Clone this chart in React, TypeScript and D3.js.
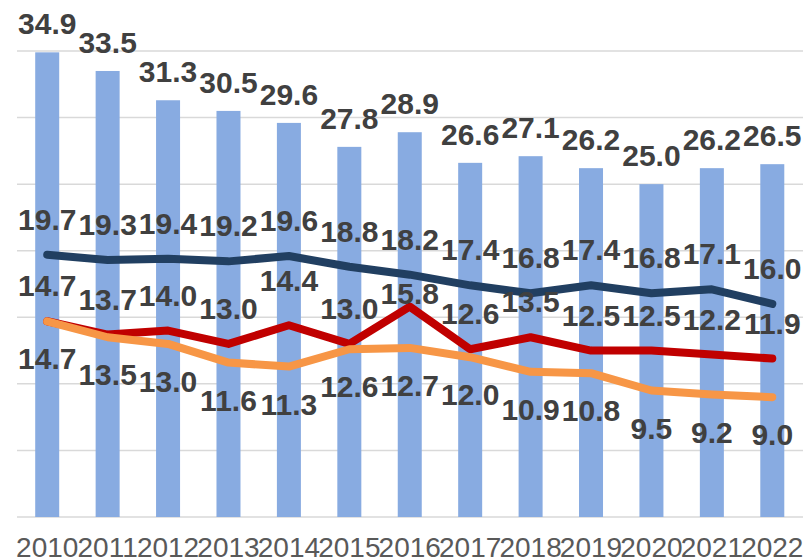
import React, { useEffect, useRef } from 'react';
import * as d3 from 'd3';

const years = ['2010', '2011', '2012', '2013', '2014', '2015', '2016', '2017', '2018', '2019', '2020', '2021', '2022'];
const barValues = [34.9, 33.5, 31.3, 30.5, 29.6, 27.8, 28.9, 26.6, 27.1, 26.2, 25.0, 26.2, 26.5];
const navyValues = [19.7, 19.3, 19.4, 19.2, 19.6, 18.8, 18.2, 17.4, 16.8, 17.4, 16.8, 17.1, 16.0];
const redValues = [14.7, 13.7, 14.0, 13.0, 14.4, 13.0, 15.8, 12.6, 13.5, 12.5, 12.5, 12.2, 11.9];
const orangeValues = [14.7, 13.5, 13.0, 11.6, 11.3, 12.6, 12.7, 12.0, 10.9, 10.8, 9.5, 9.2, 9.0];
const gridTicks = [0, 5, 10, 15, 20, 25, 30, 35];

const W = 806;
const H = 559;

// a couple of red labels were dragged by hand in the original
const redNudge: Record<number, number> = { 4: -9, 6: 22 };

const App = () => {
  const ref = useRef<SVGSVGElement>(null);

  useEffect(() => {
    const svg = d3.select(ref.current);
    svg.selectAll('*').remove();

    const x = d3.scalePoint<string>().domain(years).range([17, 802.5]).padding(0.5);
    const y = d3.scaleLinear().domain([0, 35]).range([517, 51]);
    const barW = 24;

    // gridlines
    svg.append('g')
      .selectAll('line')
      .data(gridTicks)
      .enter()
      .append('line')
      .attr('x1', 17)
      .attr('x2', 803)
      .attr('y1', d => y(d))
      .attr('y2', d => y(d))
      .attr('stroke', '#d9d9d9')
      .attr('stroke-width', 1.5);

    // bars
    svg.append('g')
      .selectAll('rect')
      .data(barValues)
      .enter()
      .append('rect')
      .attr('x', (d, i) => (x(years[i]) as number) - barW / 2)
      .attr('y', d => y(d))
      .attr('width', barW)
      .attr('height', d => y(0) - y(d))
      .attr('fill', '#88abe1');

    const line = d3.line<number>()
      .x((d, i) => x(years[i]) as number)
      .y(d => y(d));

    const series = [
      { values: navyValues, color: '#213f61' },
      { values: redValues, color: '#c00000' },
      { values: orangeValues, color: '#f79646' },
    ];
    series.forEach(s => {
      svg.append('path')
        .datum(s.values)
        .attr('d', line)
        .attr('fill', 'none')
        .attr('stroke', s.color)
        .attr('stroke-width', 8)
        .attr('stroke-linejoin', 'round')
        .attr('stroke-linecap', 'round');
    });

    const labelFont = '"Liberation Sans", Arial, sans-serif';
    const addLabels = (values: number[], dy: number, nudge: Record<number, number> = {}) => {
      svg.append('g')
        .selectAll('text')
        .data(values)
        .enter()
        .append('text')
        .attr('x', (d, i) => x(years[i]) as number)
        .attr('y', (d, i) => y(d) + dy + (nudge[i] || 0))
        .attr('text-anchor', 'middle')
        .attr('font-family', labelFont)
        .attr('font-weight', 'bold')
        .attr('font-size', 30)
        .attr('fill', '#404040')
        .text(d => d.toFixed(1));
    };
    addLabels(barValues, -18);
    addLabels(navyValues, -25);
    addLabels(redValues, -25, redNudge);
    addLabels(orangeValues, 48);

    // x axis labels
    svg.append('g')
      .selectAll('text')
      .data(years)
      .enter()
      .append('text')
      .attr('x', d => x(d) as number)
      .attr('y', 557)
      .attr('text-anchor', 'middle')
      .attr('font-family', labelFont)
      .attr('font-size', 28)
      .attr('fill', '#595959')
      .text(d => d);
  }, []);

  return (
    <svg
      ref={ref}
      width={W}
      height={H}
      style={{ position: 'absolute', left: 0, top: 0, background: '#fff' }}
    />
  );
};

export default App;
